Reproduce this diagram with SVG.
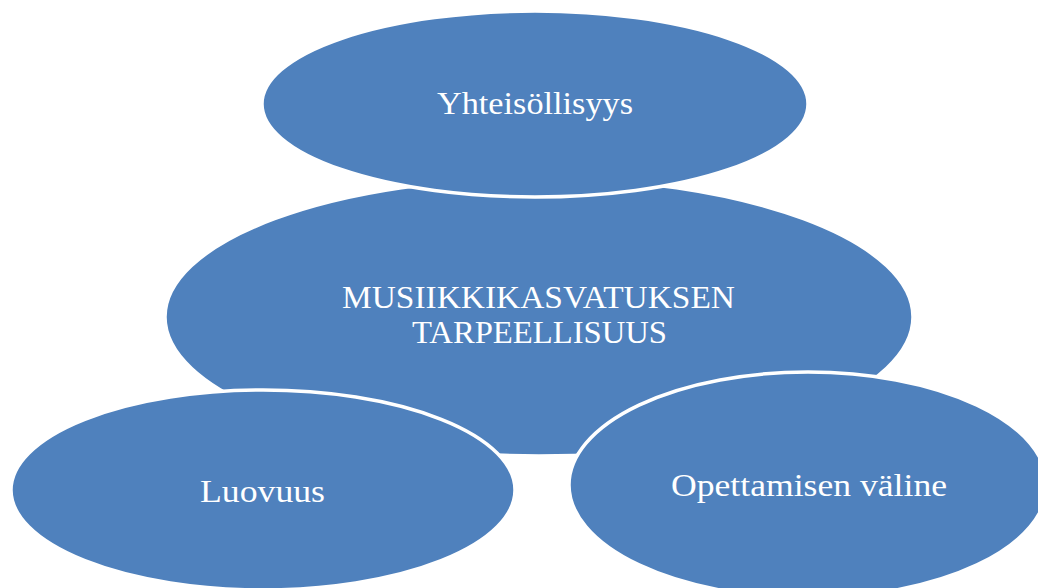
<svg xmlns="http://www.w3.org/2000/svg" width="1038" height="588" viewBox="0 0 1038 588">
<style>
.node{fill:#4F81BD;stroke:#FFFFFF;stroke-width:3.5}
.lbl{font-family:"Liberation Serif","DejaVu Serif",serif;font-size:32px;fill:#FFFFFF;text-anchor:middle}
</style>
<rect width="1038" height="588" fill="#FFFFFF"/>
<g id="connectors"></g>
<g id="node-center">
<ellipse class="node" cx="539" cy="317" rx="374" ry="139"/>
<text class="lbl" x="538.5" y="308" textLength="393" lengthAdjust="spacingAndGlyphs">MUSIIKKIKASVATUKSEN</text>
<text class="lbl" x="539.5" y="343" textLength="255" lengthAdjust="spacingAndGlyphs">TARPEELLISUUS</text>
</g>
<g id="node-top">
<ellipse class="node" cx="535" cy="104" rx="273" ry="93"/>
<text class="lbl" x="535" y="114" textLength="196" lengthAdjust="spacingAndGlyphs">Yhteisöllisyys</text>
</g>
<g id="node-left">
<ellipse class="node" cx="263" cy="490" rx="252" ry="100"/>
<text class="lbl" x="262.5" y="502" textLength="125" lengthAdjust="spacingAndGlyphs">Luovuus</text>
</g>
<g id="node-right">
<ellipse class="node" cx="808" cy="485" rx="239" ry="113"/>
<text class="lbl" x="809" y="496" textLength="276" lengthAdjust="spacingAndGlyphs">Opettamisen väline</text>
</g>
</svg>
